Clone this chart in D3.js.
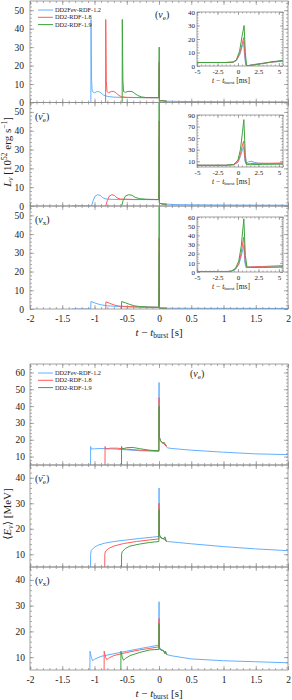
<!DOCTYPE html>
<html><head><meta charset="utf-8">
<script src="https://cdn.jsdelivr.net/npm/d3@7"></script>
<style>
  body { margin: 0; background: #fff; }
  text { font-family: 'Liberation Serif', 'DejaVu Serif', serif; fill: #222; }
</style>
</head><body>
<svg width="292" height="700"></svg>
<script>
// models and colours
const models = ['DD2Fev-RDF-1.2', 'DD2-RDF-1.8', 'DD2-RDF-1.9'];
const colors = ['#62b0ff', '#ff5b5b', '#3fa33f'];

// luminosity [10^52 erg/s] vs t - t_burst [s]
const lumE_blue = [[-1.35,0],[-1.056,0],[-1.054,45],[-1.045,12],[-1.035,6],[-1.0,5.2],[-0.97,5.8],[-0.94,6],[-0.9,5.2],[-0.86,4.0],[-0.8,3.3],[-0.7,2.9],[-0.5,2.7],[-0.2,2.6],[-0.002,2.6],[0.003,19],[0.006,0.5],[0.03,1.0],[0.1,0.7],[0.5,0.5],[1,0.4],[2,0.35]];
const lumE_red = [[-0.828,0],[-0.826,45],[-0.817,12],[-0.807,6],[-0.78,5.3],[-0.74,6],[-0.7,6],[-0.66,5],[-0.62,3.8],[-0.58,3.1],[-0.5,2.8],[-0.2,2.6],[-0.002,2.6],[0.003,22],[0.006,0.5],[0.03,1.0],[0.12,0.7]];
const lumE_green = [[-0.571,0],[-0.569,45],[-0.56,12],[-0.55,6],[-0.52,5.5],[-0.48,6],[-0.42,6],[-0.38,5],[-0.33,3.8],[-0.27,3.0],[-0.2,2.7],[-0.002,2.6],[0.003,30],[0.006,0.5],[0.03,1.0],[0.12,0.7]];

const lumA_blue = [[-1.35,0],[-1.045,0],[-1.02,3],[-0.99,5.3],[-0.95,6],[-0.91,5.6],[-0.87,4.3],[-0.82,3.7],[-0.7,3.5],[-0.4,3.4],[-0.002,3.4],[0.003,35],[0.006,1.5],[0.05,1.1],[0.3,0.7],[1,0.5],[2,0.4]];
const lumA_red = [[-0.826,0],[-0.8,3],[-0.77,5.3],[-0.73,6],[-0.69,5.6],[-0.65,4.3],[-0.6,3.7],[-0.4,3.5],[-0.002,3.4],[0.003,45],[0.006,1.5],[0.05,1.1],[0.12,0.9]];
const lumA_green = [[-0.58,0],[-0.555,3],[-0.52,5.3],[-0.47,6],[-0.42,5.7],[-0.37,4.6],[-0.3,3.9],[-0.2,3.6],[-0.002,3.4],[0.003,82],[0.006,1.5],[0.05,1.1],[0.12,0.9]];

const lumX_blue = [[-1.35,0],[-1.058,0],[-1.055,4],[-1.0,3.3],[-0.95,2.7],[-0.89,2.2],[-0.8,1.7],[-0.6,1.3],[-0.3,1.0],[-0.002,0.9],[0.003,30],[0.006,0.5],[0.1,0.4],[2,0.3]];
const lumX_red = [[-0.826,0],[-0.823,3.8],[-0.77,3.1],[-0.7,2.2],[-0.63,1.6],[-0.5,1.3],[-0.2,1.0],[-0.002,0.9],[0.003,38],[0.006,0.5],[0.12,0.4]];
const lumX_green = [[-0.582,0],[-0.579,4],[-0.52,3.3],[-0.45,2.4],[-0.38,1.7],[-0.3,1.3],[-0.15,1.0],[-0.002,0.9],[0.003,58],[0.006,0.5],[0.12,0.4]];

// insets: luminosity vs t - t_burst [ms]
const insE_blue = [[-5,2.6],[-1.5,2.6],[-0.6,2.8],[-0.2,4],[0.2,8],[0.5,14],[0.7,18],[0.8,8],[0.95,0.5],[1.3,0.4],[2,1.2],[3,2],[4,2.7],[5.5,3.6]];
const insE_red = [[-5,2.6],[-1.5,2.6],[-0.6,2.8],[-0.2,4.2],[0.2,9],[0.5,16],[0.7,21],[0.85,8],[1.0,0.4],[1.3,0.3],[2,1.0],[3,1.9],[4,2.8],[5.5,3.8]];
const insE_green = [[-5,2.6],[-1.5,2.6],[-0.6,2.9],[-0.2,4.5],[0.2,11],[0.5,22],[0.75,30],[0.9,10],[1.05,0.4],[1.4,0.3],[2,0.9],[3,1.8],[4,3.0],[5.5,4.2]];

const insA_blue = [[-5,3],[-1.5,3],[-0.5,4],[0,8],[0.3,18],[0.55,30],[0.7,35],[0.85,10],[1.0,6],[1.3,9],[1.6,10],[2,8],[2.5,6.5],[3.5,6],[5.5,6]];
const insA_red = [[-5,3],[-1.5,3],[-0.5,4],[0,9],[0.3,22],[0.55,38],[0.7,45],[0.85,15],[1.0,5],[1.5,6],[2.5,6.5],[4,6.5],[5.5,7]];
const insA_green = [[-5,3],[-1.5,3],[-0.5,4.5],[0,12],[0.3,30],[0.55,60],[0.72,82],[0.9,20],[1.05,4],[1.5,4],[3,4.5],[5.5,5]];

const insX_blue = [[-5,0.3],[-1.5,0.3],[-0.8,0.8],[-0.3,3],[0.1,8],[0.4,17],[0.7,29],[0.85,10],[1.0,4.5],[1.5,5.5],[3,5.5],[5.5,5.5]];
const insX_red = [[-5,0.3],[-1.5,0.3],[-0.8,0.9],[-0.3,3.3],[0.1,9],[0.4,21],[0.7,38],[0.88,12],[1.05,5],[1.5,5.5],[3,6],[5.5,7]];
const insX_green = [[-5,0.3],[-1.5,0.3],[-0.8,1],[-0.3,4],[0.1,12],[0.4,28],[0.72,58],[0.9,18],[1.1,5.5],[1.5,5],[3,5],[5.5,5.5]];

// mean energy [MeV] vs t - t_burst [s]
const enE_blue = [[-1.062,0],[-1.06,16],[-1.05,14.5],[-1.0,14.6],[-0.9,14.8],[-0.7,14.5],[-0.5,14.0],[-0.3,13.5],[-0.1,13.3],[-0.002,13.2],[0.001,54],[0.004,22],[0.02,19.5],[0.06,18],[0.09,17.5],[0.11,16],[0.13,15.2],[0.2,14.8],[0.5,13.8],[1,12.6],[1.5,11.6],[2,11.2]];
const enE_red = [[-0.838,0],[-0.836,16],[-0.825,14.5],[-0.75,15],[-0.65,15],[-0.5,14.4],[-0.3,13.8],[-0.1,13.4],[-0.002,13.3],[0.001,45],[0.004,22],[0.02,19.5],[0.06,18],[0.12,16]];
const enE_green = [[-0.582,0],[-0.58,16],[-0.57,14.5],[-0.5,15.3],[-0.4,15.4],[-0.3,14.7],[-0.15,13.8],[-0.002,13.4],[0.001,40],[0.004,22],[0.02,19.5],[0.06,18],[0.08,18.5],[0.1,17],[0.12,16.5]];

const enA_blue = [[-1.062,0],[-1.06,10],[-1.05,11.5],[-1.0,12.8],[-0.95,13.5],[-0.85,14.3],[-0.7,15],[-0.5,15.6],[-0.3,16.2],[-0.1,16.7],[-0.002,17],[0.001,36],[0.004,18],[0.03,16.5],[0.07,16],[0.09,16.8],[0.11,15.5],[0.13,15],[0.3,14.6],[0.5,14.1],[1,13],[1.5,12.1],[2,11.4]];
const enA_red = [[-0.842,0],[-0.84,10],[-0.83,11.2],[-0.78,12.3],[-0.7,13.2],[-0.55,14.2],[-0.35,15],[-0.15,15.6],[-0.002,16],[0.001,30],[0.004,17.5],[0.03,16.5],[0.07,16],[0.12,15.2]];
const enA_green = [[-0.582,0],[-0.58,10],[-0.57,11],[-0.52,12.3],[-0.45,13.2],[-0.3,14],[-0.15,14.6],[-0.002,15],[0.001,27.5],[0.004,17.5],[0.03,16.5],[0.07,16],[0.09,16.8],[0.11,15],[0.12,15]];

const enX_blue = [[-1.072,0],[-1.07,12.3],[-1.05,10],[-1.03,8.6],[-1.0,9.2],[-0.9,10.3],[-0.76,11],[-0.5,12.3],[-0.3,13.3],[-0.14,14],[-0.002,14.7],[0.001,31.5],[0.004,14],[0.03,13],[0.07,12.5],[0.09,11.5],[0.1,12.3],[0.12,11],[0.2,10.5],[0.5,9.3],[1,8.6],[1.5,8.2],[2,7.8]];
const enX_red = [[-0.852,0],[-0.85,12.3],[-0.83,10],[-0.81,9],[-0.78,9.6],[-0.7,10.6],[-0.5,11.8],[-0.3,12.8],[-0.14,13.4],[-0.002,14],[0.001,25],[0.004,13.5],[0.03,12.8],[0.07,12.5],[0.12,11]];
const enX_green = [[-0.592,0],[-0.59,12.3],[-0.57,10],[-0.55,8.8],[-0.52,9.5],[-0.45,10.6],[-0.3,11.8],[-0.14,12.8],[-0.002,13],[0.001,23],[0.004,13.2],[0.03,12.8],[0.07,12.5],[0.09,11.4],[0.1,12.2],[0.12,11]];

// tick values
const mainXMajor = [-2,-1.5,-1,-0.5,0,0.5,1,1.5,2];
const mainXLabels = ['-2','-1.5','-1','-0.5','0','0.5','1','1.5','2'];
const insXMajor = [-5,-2.5,0,2.5,5];
const insXLabels = ['-5','-2.5','0','2.5','5'];

const svg = d3.select('svg');
let clipN = 0;

const steps = (a, b, s) => d3.range(Math.round((b - a) / s) + 1).map(i => +(a + i * s).toFixed(4));

function styleAxis(sel, fs) {
  sel.select('.domain').remove();
  sel.selectAll('line').attr('stroke', '#8a8a8a').attr('stroke-width', 0.7);
  sel.selectAll('text').attr('font-size', fs).attr('fill', '#222')
     .style('font-family', "'Liberation Serif','DejaVu Serif',serif");
}

function panel(o) {
  const x = d3.scaleLinear().domain(o.xDom).range([o.left, o.right]);
  const y = d3.scaleLinear().domain(o.yDom).range([o.bottom, o.top]);
  const id = 'clip' + (clipN++);
  svg.append('clipPath').attr('id', id).append('rect')
    .attr('x', o.left).attr('y', o.top).attr('width', o.right - o.left).attr('height', o.bottom - o.top);
  const g = svg.append('g');
  if (o.bg) g.append('rect').attr('x', o.left).attr('y', o.top)
    .attr('width', o.right - o.left).attr('height', o.bottom - o.top).attr('fill', '#fff');
  const line = d3.line().x(d => x(d[0])).y(d => y(d[1]));
  const lg = g.append('g').attr('clip-path', `url(#${id})`);
  o.series.forEach((s, i) => lg.append('path').datum(s)
    .attr('fill', 'none').attr('stroke', colors[i]).attr('stroke-width', o.lw || 1)
    .attr('stroke-linejoin', 'round').attr('d', line));

  const M = o.major || 4, m = o.minor || 2;
  // bottom
  styleAxis(g.append('g').attr('transform', `translate(0,${o.bottom})`)
    .call(d3.axisBottom(x).tickValues(o.xMinor).tickSize(-m).tickFormat('')), o.fs);
  styleAxis(g.append('g').attr('transform', `translate(0,${o.bottom})`)
    .call(d3.axisBottom(x).tickValues(o.xMajor).tickSize(-M).tickPadding(o.xPad)
      .tickFormat((d, i) => o.xLabels ? o.xLabels[i] : '')), o.fs);
  // top
  styleAxis(g.append('g').attr('transform', `translate(0,${o.top})`)
    .call(d3.axisTop(x).tickValues(o.xMinor).tickSize(-m).tickFormat('')), o.fs);
  styleAxis(g.append('g').attr('transform', `translate(0,${o.top})`)
    .call(d3.axisTop(x).tickValues(o.xMajor).tickSize(-M).tickFormat('')), o.fs);
  // left
  styleAxis(g.append('g').attr('transform', `translate(${o.left},0)`)
    .call(d3.axisLeft(y).tickValues(o.yMinor).tickSize(-m).tickFormat('')), o.fs);
  styleAxis(g.append('g').attr('transform', `translate(${o.left},0)`)
    .call(d3.axisLeft(y).tickValues(o.yMajor).tickSize(-M).tickPadding(o.yPad).tickFormat(d3.format('d'))), o.fs);
  // right
  styleAxis(g.append('g').attr('transform', `translate(${o.right},0)`)
    .call(d3.axisRight(y).tickValues(o.yMinor).tickSize(-m).tickFormat('')), o.fs);
  styleAxis(g.append('g').attr('transform', `translate(${o.right},0)`)
    .call(d3.axisRight(y).tickValues(o.yMajor).tickSize(-M).tickFormat('')), o.fs);

  g.append('rect').attr('x', o.left).attr('y', o.top)
    .attr('width', o.right - o.left).attr('height', o.bottom - o.top)
    .attr('fill', 'none').attr('stroke', '#8a8a8a').attr('stroke-width', 0.8);
  return g;
}

const L = 30, R = 288;

// ---------- top figure: luminosities ----------
const topPanels = [
  {top: 1, bottom: 102.5, series: [lumE_blue, lumE_red, lumE_green]},
  {top: 102.5, bottom: 206, series: [lumA_blue, lumA_red, lumA_green]},
  {top: 206, bottom: 309, series: [lumX_blue, lumX_red, lumX_green]}
];
topPanels.forEach((p, i) => panel({
  left: L, right: R, top: p.top, bottom: p.bottom,
  xDom: [-2, 2], yDom: [0, 55], series: p.series,
  xMajor: mainXMajor, xMinor: steps(-2, 2, 0.1), xLabels: i === 2 ? mainXLabels : null, xPad: 6,
  yMajor: steps(0, 50, 10), yMinor: steps(0, 54, 2), yPad: 6, fs: 9.5
}));

const insets = [
  {top: 12, bottom: 66, yDom: [0, 40], yMajor: steps(0, 40, 10), yMinor: steps(0, 40, 2), series: [insE_blue, insE_red, insE_green]},
  {top: 115, bottom: 167, yDom: [0, 90], yMajor: steps(10, 90, 20), yMinor: steps(0, 90, 5), series: [insA_blue, insA_red, insA_green]},
  {top: 217, bottom: 272, yDom: [0, 60], yMajor: steps(0, 60, 10), yMinor: steps(0, 60, 2), series: [insX_blue, insX_red, insX_green]}
];
insets.forEach(p => {
  panel({
    left: 197, right: 283, top: p.top, bottom: p.bottom, bg: true,
    xDom: [-5, 5.5], yDom: p.yDom, series: p.series,
    xMajor: insXMajor, xMinor: steps(-5, 5.5, 0.5), xLabels: insXLabels, xPad: 3,
    yMajor: p.yMajor, yMinor: p.yMinor, yPad: 2, fs: 7, major: 3, minor: 1.5
  });
  const t = svg.append('text').attr('x', 231).attr('y', p.bottom + 16.5)
    .attr('text-anchor', 'middle').attr('font-size', 7.5);
  t.append('tspan').attr('font-style', 'italic').text('t');
  t.append('tspan').text(' − ');
  t.append('tspan').attr('font-style', 'italic').text('t');
  t.append('tspan').attr('font-size', 5).attr('dy', 1.5).text('burst');
  t.append('tspan').attr('dy', -1.5).text('  [ms]');
});

// ---------- bottom figure: mean energies ----------
const botPanels = [
  {top: 364, bottom: 465, yDom: [5, 65], yMajor: steps(10, 60, 10), yMinor: steps(6, 64, 2), series: [enE_blue, enE_red, enE_green]},
  {top: 465, bottom: 567, yDom: [5, 45], yMajor: steps(10, 40, 10), yMinor: steps(6, 44, 2), series: [enA_blue, enA_red, enA_green]},
  {top: 567, bottom: 670, yDom: [5, 45], yMajor: steps(10, 40, 10), yMinor: steps(6, 44, 2), series: [enX_blue, enX_red, enX_green]}
];
botPanels.forEach((p, i) => panel({
  left: L, right: R, top: p.top, bottom: p.bottom,
  xDom: [-2, 2], yDom: p.yDom, series: p.series,
  xMajor: mainXMajor, xMinor: steps(-2, 2, 0.1), xLabels: i === 2 ? mainXLabels : null, xPad: 6,
  yMajor: p.yMajor, yMinor: p.yMinor, yPad: 5, fs: 9.5
}));

// flavour labels
function flavour(x, y, bar, sub) {
  const t = svg.append('text').attr('x', x).attr('y', y).attr('font-size', 10);
  t.append('tspan').text('(');
  t.append('tspan').attr('font-style', 'italic').text(bar ? 'ν̄' : 'ν');
  t.append('tspan').attr('font-size', 7).attr('dy', 2).text(sub);
  t.append('tspan').attr('dy', -2).text(')');
}
flavour(155, 18, false, 'e');
flavour(35, 120, true, 'e');
flavour(35, 223, false, 'x');
flavour(190, 377, false, 'e');
flavour(35, 482, true, 'e');
flavour(35, 584, false, 'x');

// legends
function legend(y0) {
  models.forEach((m, i) => {
    const y = y0 + i * 7.3;
    svg.append('line').attr('x1', 38).attr('x2', 53).attr('y1', y).attr('y2', y)
      .attr('stroke', colors[i]).attr('stroke-width', 1);
    svg.append('text').attr('x', 55).attr('y', y + 2).attr('font-size', 6.3).text(m);
  });
}
legend(10);
legend(373);

// x axis titles
function xTitle(y) {
  const t = svg.append('text').attr('x', 159).attr('y', y).attr('text-anchor', 'middle').attr('font-size', 11);
  t.append('tspan').attr('font-style', 'italic').text('t');
  t.append('tspan').text(' − ');
  t.append('tspan').attr('font-style', 'italic').text('t');
  t.append('tspan').attr('font-size', 7.5).attr('dy', 2).text('burst');
  t.append('tspan').attr('dy', -2).text('   [s]');
}
xTitle(336);
xTitle(697);

// y axis titles
const yt1 = svg.append('text').attr('transform', 'translate(11,152) rotate(-90)')
  .attr('text-anchor', 'middle').attr('font-size', 11);
yt1.append('tspan').attr('font-style', 'italic').text('L');
yt1.append('tspan').attr('font-style', 'italic').attr('font-size', 7.5).attr('dy', 2).text('ν');
yt1.append('tspan').attr('dy', -2).text('  [10');
yt1.append('tspan').attr('font-size', 7.5).attr('dy', -4).text('52');
yt1.append('tspan').attr('dy', 4).text(' erg  s');
yt1.append('tspan').attr('font-size', 7.5).attr('dy', -4).text('−1');
yt1.append('tspan').attr('dy', 4).text(']');

const yt2 = svg.append('text').attr('transform', 'translate(11,514) rotate(-90)')
  .attr('text-anchor', 'middle').attr('font-size', 11);
yt2.append('tspan').text('⟨');
yt2.append('tspan').attr('font-style', 'italic').text('E');
yt2.append('tspan').attr('font-style', 'italic').attr('font-size', 7.5).attr('dy', 2).text('ν');
yt2.append('tspan').attr('dy', -2).text('⟩  [MeV]');
</script>
</body></html>
